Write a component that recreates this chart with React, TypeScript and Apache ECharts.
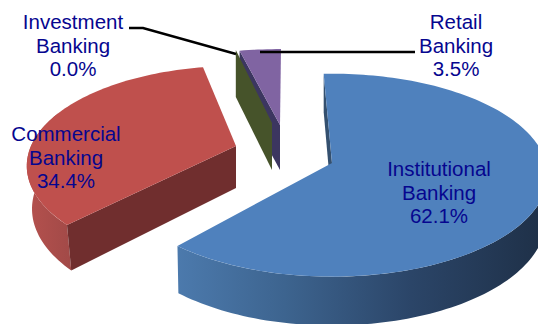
import React, { useEffect, useRef } from "react";
import * as echarts from "echarts";

// Share of revenue by business line, clockwise from 12 o'clock.
const categories = ["Institutional\nBanking", "Commercial\nBanking", "Investment\nBanking", "Retail\nBanking"];
const shares = [62.1, 34.4, 0.0, 3.5];

const topColors = ["#4f81bd", "#bf504d", "#46532a", "#8064a2"];
const wallColors = ["#34506f", "#702e2e", "#46532a", "#3c3660"];
const labelColor = "#06068f";

// Back-to-front paint order of the slices.
const paintOrder = [3, 2, 1, 0];

// Per-slice view of the tilted, exploded pie: apex in pixels, radii, perspective strength,
// rotation in degrees, extrusion depth and how strongly the extrusion follows perspective.
const views = [
  { cx: 332, cy: 163, rx: 214, ry: 100, k: 0.12, rot: -2.5, depth: 43, dk: 1, taper: 0.006 },
  { cx: 236, cy: 146, rx: 205, ry: 96, k: 0.2, rot: 1.5, depth: 42, dk: 0.5, taper: 0.025 },
  { cx: 272, cy: 123, rx: 212, ry: 83, k: 0.12, rot: 1.6, depth: 47, dk: 0, taper: 0 },
  { cx: 280, cy: 125, rx: 212, ry: 85, k: 0.12, rot: 0.3, depth: 45, dk: 0, taper: 0 },
];

type View = (typeof views)[number];
type Point = { x: number; y: number; s: number };

const toRad = (deg: number) => (deg * Math.PI) / 180;

function project(v: View, deg: number): Point {
  const a = toRad(deg + v.rot);
  const u = Math.sin(a);
  const w = Math.cos(a);
  const s = 1 / (1 + v.k * w);
  return { x: v.cx + v.rx * u * s, y: v.cy - v.ry * w * s, s };
}

function drop(v: View, p: Point) {
  return [p.x + (v.cx - p.x) * v.taper, p.y + v.depth * (1 + v.dk * (p.s - 1))];
}

function arcPoints(v: View, from: number, to: number) {
  const n = Math.max(1, Math.ceil(Math.abs(to - from) / 1.5));
  const pts: Point[] = [];
  for (let i = 0; i <= n; i++) pts.push(project(v, from + ((to - from) * i) / n));
  return pts;
}

function sideFill(index: number) {
  if (index === 0) {
    return new echarts.graphic.LinearGradient(176, 0, 538, 0, [
      { offset: 0, color: "#4c7aad" },
      { offset: 0.3, color: "#3d648f" },
      { offset: 0.65, color: "#2b4568" },
      { offset: 1, color: "#1f3149" },
    ], true);
  }
  return new echarts.graphic.LinearGradient(26, 0, 75, 0, [
    { offset: 0, color: "#b5514e" },
    { offset: 1, color: "#a04947" },
  ], true);
}

function renderSlice(params: any, api: any) {
  const i = api.value(1);
  const v = views[i];
  const before = shares.slice(0, i).reduce((a, b) => a + b, 0);
  const start = (before / 100) * 360;
  const end = start + (api.value(0) / 100) * 360;
  const children: any[] = [];
  const apex: Point = { x: v.cx, y: v.cy, s: 1 };

  const wall = (deg: number, fill: string) => {
    const p = project(v, deg);
    children.push({
      type: "polygon",
      shape: { points: [[p.x, p.y], [apex.x, apex.y], drop(v, apex), drop(v, p)] },
      style: { fill },
    });
  };
  const rimBand = (from: number, to: number) => {
    const rim = arcPoints(v, from, to);
    children.push({
      type: "polygon",
      shape: { points: [...rim.map((p) => [p.x, p.y]), ...rim.slice().reverse().map((p) => drop(v, p))] },
      style: { fill: sideFill(i) },
    });
  };

  if (i === 0) {
    wall(start, wallColors[0]);
    rimBand(90, end);
  } else if (i === 1) {
    rimBand(start, 290);
    wall(start, wallColors[1]);
  } else {
    wall(start, wallColors[i]);
  }

  // A zero share has no top face, only its exposed cut plane.
  if (end > start) {
    children.push({
      type: "polygon",
      shape: { points: [[apex.x, apex.y], ...arcPoints(v, start, end).map((p) => [p.x, p.y])] },
      style: { fill: topColors[i] },
    });
  }
  return { type: "group", children };
}

const percent = (value: number) => `${value.toFixed(1)}%`;
const labelText = (i: number) => `${categories[i]}\n${percent(shares[i])}`;

// Label anchors (centre of the text block), same order as the shares.
const labelSpots = [
  [439, 192],
  [66, 157],
  [73, 45],
  [456, 45],
];

export default function App() {
  const ref = useRef<HTMLDivElement>(null);
  useEffect(() => {
    const chart = echarts.init(ref.current!, null, { renderer: "svg" });
    chart.setOption({
      animation: false,
      backgroundColor: "#ffffff",
      series: [
        {
          type: "custom",
          coordinateSystem: "none",
          silent: true,
          clip: false,
          data: paintOrder.map((i) => [shares[i], i]),
          renderItem: renderSlice,
        },
      ],
      graphic: [
        {
          type: "polyline",
          silent: true,
          shape: { points: [[129, 28], [143, 28], [236, 54]] },
          style: { stroke: "#000", lineWidth: 2.5, fill: "none" },
          z: 10,
        },
        {
          type: "line",
          silent: true,
          shape: { x1: 260, y1: 52, x2: 415, y2: 52 },
          style: { stroke: "#000", lineWidth: 2.7 },
          z: 10,
        },
        ...labelSpots.map(([x, y], i) => ({
          type: "text",
          silent: true,
          x,
          y,
          z: 11,
          style: {
            text: labelText(i),
            font: '20.5px "Liberation Sans", Arial, sans-serif',
            lineHeight: 23.5,
            fill: labelColor,
            align: "center",
            verticalAlign: "middle",
          },
        })),
      ],
    });
    return () => chart.dispose();
  }, []);
  return <div ref={ref} style={{ position: "fixed", left: 0, top: 0, width: 538, height: 324 }} />;
}
